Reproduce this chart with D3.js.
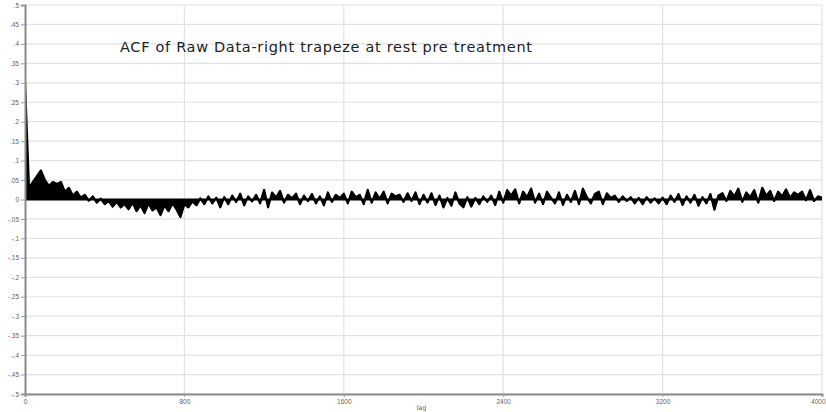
<!DOCTYPE html>
<html>
<head>
<meta charset="utf-8">
<script src="https://cdn.jsdelivr.net/npm/d3@7"></script>
<style>
  body { margin: 0; background: #fff; }
  svg { display: block; font-family: "DejaVu Sans", sans-serif; }
</style>
</head>
<body>
<div id="chart"></div>
<script>
// ACF values, one every 20 lags
const lagStep = 20;
const acfValues = [
  0.3, 0.03, 0.045, 0.06, 0.075, 0.05, 0.035, 0.045, 0.04, 0.045,
  0.02, 0.03, 0.01, 0.02, 0.005, 0.012, -0.003, 0.008, -0.008, 0.002,
  -0.012, -0.004, -0.018, -0.006, -0.02,
  -0.012, -0.025, -0.008, -0.03, -0.015, -0.035, -0.01, -0.028, -0.02, -0.04,
  -0.015, -0.03, -0.01, -0.025, -0.045, -0.012, -0.02, -0.005, -0.015, 0.003,
  -0.012, 0.008, -0.01, 0.005, -0.02,
  0.006, -0.012, 0.01, -0.006, 0.015, -0.015, 0.008, -0.005, 0.012, -0.01,
  0.025, -0.02, 0.018, 0.005, 0.022, -0.008, 0.012, 0.003, 0.015, -0.012,
  0.01, -0.004, 0.014, -0.01, 0.008,
  -0.015, 0.018, -0.006, 0.012, 0.004, 0.015, -0.01, 0.02, 0.006, 0.012,
  -0.012, 0.025, -0.008, 0.018, 0.002, 0.02, -0.01, 0.015, 0.008, 0.012,
  -0.006, 0.016, -0.004, 0.018, -0.012,
  0.012, -0.008, 0.016, -0.014, 0.01, -0.02, 0.004, -0.016, 0.018, -0.01,
  -0.02, 0.006, -0.018, 0.004, -0.012, 0.008, -0.006, 0.01, -0.014, 0.02,
  -0.008, 0.024, 0.01, 0.026, -0.01,
  0.02, 0.006, 0.028, -0.008, 0.015, -0.012, 0.02, 0.004, -0.01, 0.018,
  -0.014, 0.012, -0.006, 0.022, -0.012, 0.028, 0.006, -0.01, 0.014, 0.02,
  -0.012, 0.016, 0.004, 0.01, -0.006,
  0.008, -0.004, 0.006, -0.01, 0.004, -0.012, 0.006, -0.008, 0.003, -0.01,
  0.005, -0.012, 0.01, -0.006, 0.014, -0.014, 0.008, -0.008, 0.012, -0.016,
  0.006, -0.01, 0.014, -0.026, 0.01,
  0.016, -0.004, 0.022, 0.008, 0.028, -0.006, 0.018, 0.006, 0.024, -0.008,
  0.03, 0.01, 0.022, -0.004, 0.02, 0.008, 0.026, 0.004, 0.018, 0.012,
  0.02, -0.002, 0.024, -0.004, 0.008, 0.005
];
const xTicks = [0, 800, 1600, 2400, 3200, 4000];
const yTicks = [0.5, 0.45, 0.4, 0.35, 0.3, 0.25, 0.2, 0.15, 0.1, 0.05, 0,
  -0.05, -0.1, -0.15, -0.2, -0.25, -0.3, -0.35, -0.4, -0.45, -0.5];
const yTickLabels = [".5", ".45", ".4", ".35", ".3", ".25", ".2", ".15", ".1", ".05", "0",
  "-.05", "-.1", "-.15", "-.2", "-.25", "-.3", "-.35", "-.4", "-.45", "-.5"];
const titleText = "ACF of Raw Data-right trapeze at rest pre  treatment";
const xLabel = "lag";

const width = 826, height = 412;
const margin = { top: 5, right: 4, bottom: 18, left: 25 };

const svg = d3.select("#chart").append("svg")
  .attr("width", width)
  .attr("height", height);

const x = d3.scaleLinear().domain([0, 4000]).range([margin.left, width - margin.right]);
const y = d3.scaleLinear().domain([-0.5, 0.5]).range([height - margin.bottom, margin.top]);

const data = acfValues.map((v, i) => ({ lag: i * lagStep, v: v }));

// grid
svg.append("g")
  .selectAll("line")
  .data(yTicks)
  .join("line")
  .attr("x1", margin.left).attr("x2", width - margin.right)
  .attr("y1", d => y(d)).attr("y2", d => y(d))
  .attr("stroke", "#e2e2e2").attr("stroke-width", 1.2);

svg.append("g")
  .selectAll("line")
  .data(xTicks.slice(1))
  .join("line")
  .attr("x1", d => x(d)).attr("x2", d => x(d))
  .attr("y1", margin.top).attr("y2", height - margin.bottom)
  .attr("stroke", "#e2e2e2").attr("stroke-width", 1.2);

// title
svg.append("text")
  .attr("x", 120).attr("y", 52)
  .attr("font-size", 14.5)
  .attr("fill", "#222")
  .attr("textLength", 412)
  .text(titleText);

// clip
svg.append("clipPath").attr("id", "plotClip")
  .append("rect")
  .attr("x", margin.left).attr("y", margin.top)
  .attr("width", width - margin.left - margin.right)
  .attr("height", height - margin.top - margin.bottom);

const area = d3.area()
  .x(d => x(d.lag))
  .y0(y(0))
  .y1(d => y(d.v));

const line = d3.line()
  .x(d => x(d.lag))
  .y(d => y(d.v));

const plot = svg.append("g").attr("clip-path", "url(#plotClip)");
plot.append("path")
  .datum(data)
  .attr("d", area)
  .attr("fill", "#000");
plot.append("path")
  .datum(data)
  .attr("d", line)
  .attr("fill", "none")
  .attr("stroke", "#000")
  .attr("stroke-width", 2.2)
  .attr("stroke-linejoin", "round");
plot.append("line")
  .attr("x1", x(0)).attr("x2", x(4000))
  .attr("y1", y(0)).attr("y2", y(0))
  .attr("stroke", "#000").attr("stroke-width", 2);

// axes
const yAxis = svg.append("g")
  .attr("transform", `translate(${margin.left},0)`)
  .call(d3.axisLeft(y).tickValues(yTicks)
    .tickFormat((d, i) => yTickLabels[i]).tickSize(4).tickPadding(2));
yAxis.select(".domain").attr("stroke", "#8a8a8a").attr("stroke-width", 2);
yAxis.selectAll(".tick line").attr("stroke", "#9a9a9a");
yAxis.selectAll(".tick text").attr("font-size", 6.5).attr("fill", "#666");

const xAxis = svg.append("g")
  .attr("transform", `translate(0,${height - margin.bottom})`)
  .call(d3.axisBottom(x).tickValues(xTicks).tickFormat(d3.format("d")).tickSize(3).tickPadding(2));
xAxis.select(".domain").attr("stroke", "#8a8a8a").attr("stroke-width", 2);
xAxis.selectAll(".tick line").attr("stroke", "#9a9a9a");
xAxis.selectAll(".tick text").attr("font-size", 6.5).attr("fill", "#666")
  .attr("text-anchor", d => d === 4000 ? "end" : "middle")
  .attr("dx", d => d === 4000 ? 3 : 0);

svg.append("text")
  .attr("x", x(2000) - 2).attr("y", height - 2)
  .attr("text-anchor", "middle")
  .attr("font-size", 6.5)
  .attr("fill", "#666")
  .text(xLabel);
</script>
</body>
</html>
